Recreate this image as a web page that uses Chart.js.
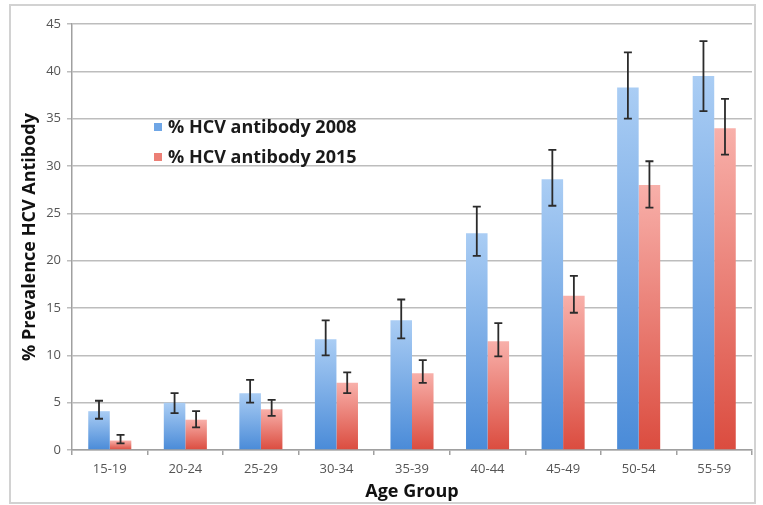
<!DOCTYPE html>
<html lang="en">
<head>
  <meta charset="UTF-8">
  <title>% Prevalence HCV Antibody by Age Group</title>
  <script src="https://cdn.jsdelivr.net/npm/chart.js"></script>
  <style>
    html, body { margin: 0; padding: 0; background: #fff; }
    #wrap { position: relative; width: 763px; height: 505px; }
    #frame { position: absolute; left: 9px; top: 4px; width: 747px; height: 500px; border: 2px solid #d2d2d2; box-sizing: border-box; pointer-events: none; }
  </style>
</head>
<body>
  <div id="wrap">
    <canvas id="hcvChart" width="763" height="505"></canvas>
    <div id="frame"></div>
  </div>

  <script>
    // Data
    const ageGroups = ['15-19', '20-24', '25-29', '30-34', '35-39', '40-44', '45-49', '50-54', '55-59'];
    const hcv2008 = [4.1, 5.0, 6.0, 11.7, 13.7, 22.9, 28.6, 38.3, 39.5];
    const hcv2008Low = [3.3, 3.9, 5.0, 10.0, 11.8, 20.5, 25.8, 35.0, 35.8];
    const hcv2008High = [5.2, 6.0, 7.4, 13.7, 15.9, 25.7, 31.7, 42.0, 43.2];
    const hcv2015 = [1.0, 3.2, 4.3, 7.1, 8.1, 11.5, 16.3, 28.0, 34.0];
    const hcv2015Low = [0.7, 2.4, 3.6, 6.0, 7.1, 9.9, 14.5, 25.6, 31.2];
    const hcv2015High = [1.6, 4.1, 5.3, 8.2, 9.5, 13.4, 18.4, 30.5, 37.1];
    const yTicks = [0, 5, 10, 15, 20, 25, 30, 35, 40, 45];

    const FONT = '"Open Sans", Lato, sans-serif';

    // vertical gradient for each bar, light at the top, darker at the base
    const barGradient = (topColor, bottomColor) => (context) => {
      const chart = context.chart;
      if (!chart.chartArea || context.raw === undefined) return bottomColor;
      const y = chart.scales.y;
      const top = y.getPixelForValue(context.raw);
      const bottom = y.getPixelForValue(0);
      if (!isFinite(top) || !isFinite(bottom) || top === bottom) return bottomColor;
      const g = chart.ctx.createLinearGradient(0, top, 0, bottom);
      g.addColorStop(0, topColor);
      g.addColorStop(1, bottomColor);
      return g;
    };

    // error bars
    const errorBars = {
      id: 'errorBars',
      afterDatasetsDraw(chart) {
        const ctx = chart.ctx;
        const y = chart.scales.y;
        const ranges = [[hcv2008Low, hcv2008High], [hcv2015Low, hcv2015High]];
        ctx.save();
        ctx.strokeStyle = '#2b2b2b';
        ctx.lineWidth = 1.8;
        ranges.forEach(([lo, hi], di) => {
          chart.getDatasetMeta(di).data.forEach((bar, i) => {
            const x = bar.x;
            const yl = y.getPixelForValue(lo[i]);
            const yh = y.getPixelForValue(hi[i]);
            ctx.beginPath();
            ctx.moveTo(x, yh); ctx.lineTo(x, yl);
            ctx.moveTo(x - 4, yh); ctx.lineTo(x + 4, yh);
            ctx.moveTo(x - 4, yl); ctx.lineTo(x + 4, yl);
            ctx.stroke();
          });
        });
        ctx.restore();
      }
    };

    // legend drawn inside the plot area
    const innerLegend = {
      id: 'innerLegend',
      afterDraw(chart) {
        const ctx = chart.ctx;
        const area = chart.chartArea;
        const x = area.left + 82;
        const y0 = area.top + 103;
        ctx.save();
        ctx.font = 'bold 18px ' + FONT;
        ctx.textBaseline = 'middle';
        chart.data.datasets.forEach((ds, i) => {
          const y = y0 + i * 30;
          ctx.fillStyle = ds.legendColor;
          ctx.fillRect(x, y - 4, 8, 8);
          ctx.fillStyle = '#1a1a1a';
          ctx.fillText(ds.label, x + 14, y + 1);
        });
        ctx.restore();
      }
    };

    new Chart(document.getElementById('hcvChart').getContext('2d'), {
      type: 'bar',
      data: {
        labels: ageGroups,
        datasets: [
          {
            label: '% HCV antibody 2008',
            data: hcv2008,
            backgroundColor: barGradient('#aacdf4', '#4a8bd8'),
            legendColor: '#6fa6e6',
            barPercentage: 1,
            categoryPercentage: 0.57
          },
          {
            label: '% HCV antibody 2015',
            data: hcv2015,
            backgroundColor: barGradient('#f8b0aa', '#db4c3f'),
            legendColor: '#ec7f76',
            barPercentage: 1,
            categoryPercentage: 0.57
          }
        ]
      },
      options: {
        responsive: false,
        animation: false,
        layout: { padding: { top: 24, right: 11, bottom: 0, left: 11 } },
        plugins: {
          legend: { display: false },
          tooltip: { enabled: false }
        },
        scales: {
          x: {
            afterFit(axis) { axis.height = 55; },
            grid: { offset: true, drawOnChartArea: false, drawTicks: true, tickLength: 5, color: '#a0a0a0', lineWidth: 1.5 },
            border: { color: '#a0a0a0', width: 1.5 },
            ticks: { color: '#555', font: { family: FONT, size: 13 }, padding: 6 },
            title: { display: true, text: 'Age Group', color: '#111', font: { family: FONT, size: 18, weight: 'bold' }, padding: { top: 0, bottom: 2 } }
          },
          y: {
            min: 0,
            max: 45,
            afterBuildTicks(axis) { axis.ticks = yTicks.map(v => ({ value: v })); },
            afterFit(axis) { axis.width = 61; },
            grid: { color: '#bdbdbd', lineWidth: 1.5, tickLength: 5 },
            border: { color: '#a0a0a0', width: 1.5 },
            ticks: { color: '#555', font: { family: FONT, size: 13 }, padding: 6 },
            title: { display: true, text: '% Prevalence HCV Antibody', color: '#111', font: { family: FONT, size: 18, weight: 'bold' }, padding: { top: 8, bottom: 0 } }
          }
        }
      },
      plugins: [errorBars, innerLegend]
    });
  </script>
</body>
</html>
